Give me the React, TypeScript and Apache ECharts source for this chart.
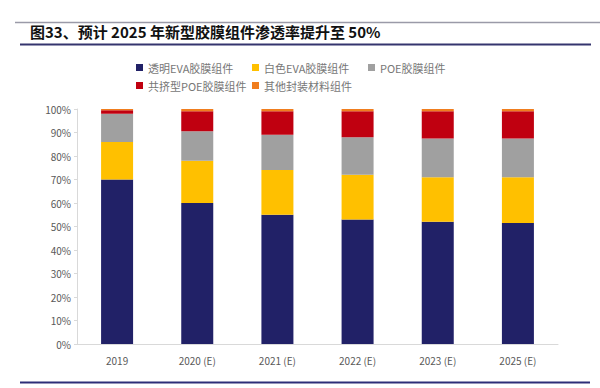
import React, { useEffect, useRef } from "react";
import * as echarts from "echarts";

const categories = ["2019", "2020 (E)", "2021 (E)", "2022 (E)", "2023 (E)", "2025 (E)"];
const seriesNames = ["透明EVA胶膜组件", "白色EVA胶膜组件", "POE胶膜组件", "共挤型POE胶膜组件", "其他封装材料组件"];
const transparentEVA = [70, 60, 55, 53, 52, 51.5];
const whiteEVA = [16, 18, 19, 19, 19, 19.5];
const poe = [12, 12.5, 15, 16, 16.5, 16.5];
const coextrudedPOE = [1.5, 8.5, 10, 11, 11.5, 11.5];
const others = [0.5, 1, 1, 1, 1, 1];
const seriesValues = [transparentEVA, whiteEVA, poe, coextrudedPOE, others];
const colors = ["#212167", "#FFC000", "#A0A0A0", "#C00010", "#F07D1E"];
const titleText = "图33、预计 2025 年新型胶膜组件渗透率提升至 50%";

const legendPos = [
  { left: 136, top: 62 },
  { left: 252, top: 62 },
  { left: 368, top: 62 },
  { left: 136, top: 80 },
  { left: 252, top: 80 },
];

export default function App() {
  const ref = useRef<HTMLDivElement>(null);
  useEffect(() => {
    document.body.style.margin = "0";
    const chart = echarts.init(ref.current!, null, { renderer: "svg" });
    const font = "'Noto Sans CJK SC', 'Noto Sans', sans-serif";
    chart.setOption({
      animation: false,
      backgroundColor: "#ffffff",
      legend: seriesNames.map((n, i) => ({
        data: [n],
        left: legendPos[i].left,
        top: legendPos[i].top,
        itemWidth: 7,
        itemHeight: 7,
        icon: "rect",
        itemGap: 0,
        padding: 0,
        textStyle: { fontFamily: font, fontSize: 11, color: "#777777", padding: [0, 0, 0, 0] },
      })),
      grid: { left: 77, right: 42, top: 109, bottom: 44 },
      xAxis: {
        type: "category",
        data: categories,
        axisLine: { lineStyle: { color: "#d9d9d9", width: 1 } },
        axisTick: { show: false },
        axisLabel: { color: "#595959", fontFamily: font, fontSize: 10, margin: 11 },
      },
      yAxis: {
        type: "value",
        min: 0,
        max: 100,
        interval: 10,
        axisLine: { show: true, lineStyle: { color: "#d9d9d9" } },
        axisTick: { show: true, length: 3, lineStyle: { color: "#d9d9d9" } },
        splitLine: { show: false },
        axisLabel: { formatter: "{value}%", color: "#595959", fontFamily: font, fontSize: 10, margin: 6 },
      },
      series: seriesNames.map((n, i) => ({
        name: n,
        type: "bar",
        stack: "total",
        barWidth: 32,
        data: seriesValues[i],
        itemStyle: { color: colors[i] },
      })),
      graphic: [
        { type: "line", shape: { x1: 15, y1: 22.5, x2: 600, y2: 22.5 }, style: { stroke: "#9a9aa8", lineWidth: 1.5 } },
        {
          type: "text",
          left: 30,
          top: 24,
          style: { text: titleText, fontFamily: font, fontSize: 15, fontWeight: "bold", fill: "#111111" },
        },
        { type: "line", shape: { x1: 20, y1: 44.5, x2: 591, y2: 44.5 }, style: { stroke: "#35356e", lineWidth: 2 } },
        { type: "line", shape: { x1: 20, y1: 382.5, x2: 590, y2: 382.5 }, style: { stroke: "#2e2e78", lineWidth: 2 } },
      ],
    });
    return () => chart.dispose();
  }, []);
  return <div ref={ref} style={{ position: "absolute", left: 0, top: 0, width: 600, height: 388 }} />;
}
